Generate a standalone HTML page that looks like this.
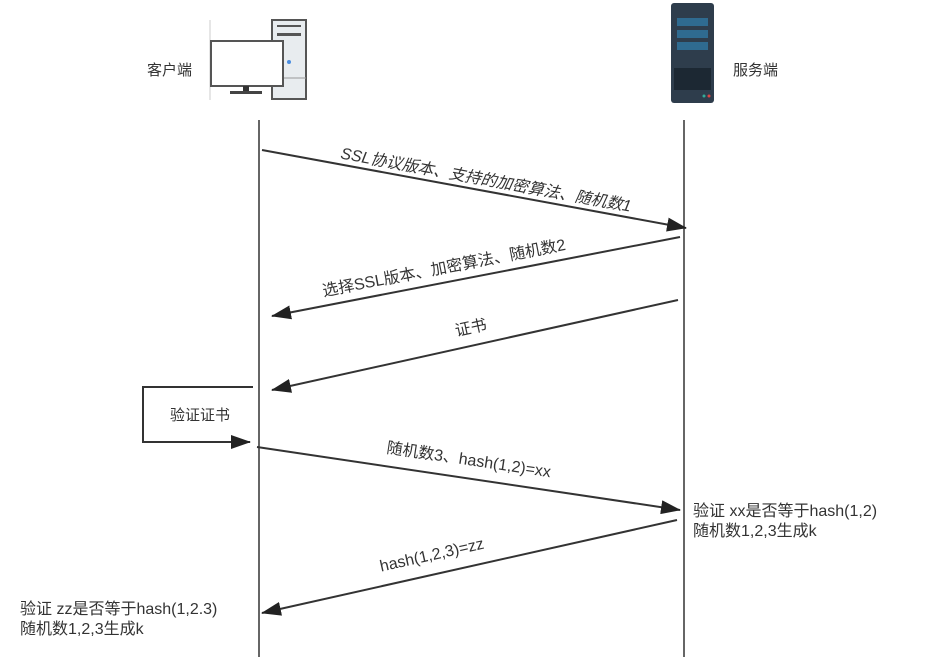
<!DOCTYPE html>
<html><head><meta charset="utf-8"><style>
body{margin:0;background:#fff;}
svg text{font-family:"Liberation Sans","Noto Sans CJK SC",sans-serif;font-size:15px;fill:#333;}
</style></head><body>
<svg width="927" height="657" viewBox="0 0 927 657" xmlns="http://www.w3.org/2000/svg">
<defs><marker id="a" markerWidth="20" markerHeight="14" refX="19" refY="7" orient="auto" markerUnits="userSpaceOnUse"><path d="M0,0 L20,7 L0,14 z" fill="#222"/></marker></defs>
<!-- client icon -->
<line x1="210" y1="20" x2="210" y2="100" stroke="#ccc"/>
<rect x="272" y="20" width="34" height="79" fill="#e8ecef" stroke="#555" stroke-width="2"/>
<rect x="277" y="25" width="24" height="2" fill="#555"/><rect x="277" y="33" width="24" height="3" fill="#555"/>
<line x1="272" y1="78" x2="306" y2="78" stroke="#999"/>
<circle cx="289" cy="62" r="2" fill="#4a8de0"/>
<rect x="211" y="41" width="72" height="45" fill="#fff" stroke="#555" stroke-width="2"/>
<rect x="243" y="86" width="6" height="6" fill="#333"/><rect x="230" y="91" width="32" height="3" fill="#444"/>
<text x="147" y="75">客户端</text>
<!-- server icon -->
<rect x="671" y="3" width="43" height="100" rx="3" fill="#2e3d4c"/>
<rect x="677" y="18" width="31" height="8" fill="#2f6b90"/><rect x="677" y="30" width="31" height="8" fill="#2f6b90"/><rect x="677" y="42" width="31" height="8" fill="#2f6b90"/>
<rect x="674" y="68" width="37" height="22" fill="#1c2833"/>
<circle cx="704" cy="96" r="1.5" fill="#3a9"/><circle cx="709" cy="96" r="1.5" fill="#d44"/>
<text x="733" y="75">服务端</text>
<!-- lifelines -->
<line x1="259" y1="120" x2="259" y2="657" stroke="#333" stroke-width="1.5"/>
<line x1="684" y1="120" x2="684" y2="657" stroke="#333" stroke-width="1.5"/>
<g stroke="#333" stroke-width="2" marker-end="url(#a)">
<line x1="262" y1="150" x2="686" y2="228"/>
<line x1="680" y1="237" x2="272" y2="316"/>
<line x1="678" y1="300" x2="272" y2="390"/>
<line x1="257" y1="447" x2="680" y2="510"/>
<line x1="677" y1="520" x2="262" y2="613"/>
<polyline points="253,387 143,387 143,442 250,442" fill="none"/>
</g>
<text transform="translate(485,185) rotate(10.4)" text-anchor="middle" font-style="italic" style="font-size:16px">SSL协议版本、支持的加密算法、随机数1</text>
<text transform="translate(445,273) rotate(-10.9)" text-anchor="middle" style="font-size:16px">选择SSL版本、加密算法、随机数2</text>
<text transform="translate(472,333) rotate(-12.4)" text-anchor="middle" style="font-size:16px">证书</text>
<text x="200" y="420" text-anchor="middle">验证证书</text>
<text transform="translate(468,465) rotate(8.5)" text-anchor="middle" style="font-size:16px">随机数3、hash(1,2)=xx</text>
<text transform="translate(433,560) rotate(-12.6)" text-anchor="middle" style="font-size:16px">hash(1,2,3)=zz</text>
<text x="693" y="516" style="font-size:16px">验证 xx是否等于hash(1,2)</text>
<text x="693" y="536" style="font-size:16px">随机数1,2,3生成k</text>
<text x="20" y="614" style="font-size:16px">验证 zz是否等于hash(1,2.3)</text>
<text x="20" y="634" style="font-size:16px">随机数1,2,3生成k</text>
</svg>
</body></html>
